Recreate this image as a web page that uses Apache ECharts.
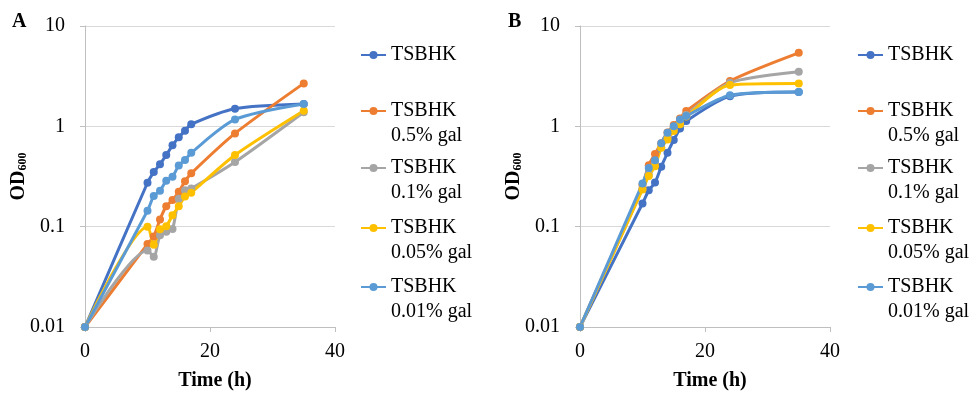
<!DOCTYPE html>
<html>
<head>
<meta charset="utf-8">
<script src="https://cdn.jsdelivr.net/npm/echarts@6/dist/echarts.min.js"></script>
<style>
  html, body { margin: 0; padding: 0; background: #fff; }
  #chart { width: 973px; height: 394px; }
</style>
</head>
<body>
<div id="chart"></div>
<script>
// ---- data ----
const times = [0, 10, 11, 12, 13, 14, 15, 16, 17, 24, 35];
const seriesNames = ['TSBHK', 'TSBHK\n0.5% gal', 'TSBHK\n0.1% gal', 'TSBHK\n0.05% gal', 'TSBHK\n0.01% gal'];
const colors = ['#4472C4', '#ED7D31', '#A5A5A5', '#FFC000', '#5B9BD5'];

// Panel A
const a_TSBHK   = [0.01, 0.274, 0.35, 0.42, 0.517, 0.646, 0.777, 0.904, 1.05, 1.5, 1.67];
const a_gal05   = [0.01, 0.067, 0.08, 0.118, 0.16, 0.184, 0.223, 0.283, 0.34, 0.85, 2.68];
const a_gal01   = [0.01, 0.058, 0.05, 0.082, 0.089, 0.095, 0.19, 0.23, 0.24, 0.44, 1.38];
const a_gal005  = [0.01, 0.1, 0.066, 0.094, 0.101, 0.13, 0.16, 0.2, 0.218, 0.517, 1.43];
const a_gal001  = [0.01, 0.144, 0.202, 0.228, 0.287, 0.315, 0.408, 0.461, 0.546, 1.17, 1.67];

// Panel B
const b_TSBHK   = [0.01, 0.17, 0.23, 0.275, 0.396, 0.545, 0.73, 0.95, 1.13, 2.0, 2.2];
const b_gal05   = [0.01, 0.26, 0.41, 0.53, 0.68, 0.87, 1.03, 1.2, 1.42, 2.83, 5.4];
const b_gal01   = [0.01, 0.24, 0.33, 0.43, 0.62, 0.78, 0.95, 1.1, 1.3, 2.72, 3.5];
const b_gal005  = [0.01, 0.235, 0.32, 0.40, 0.61, 0.74, 0.9, 1.05, 1.25, 2.58, 2.67];
const b_gal001  = [0.01, 0.27, 0.385, 0.46, 0.68, 0.865, 1.0, 1.17, 1.27, 2.04, 2.2];

const xTicks = [0, 20, 40];
const yTicks = [0.01, 0.1, 1, 10];
const panelLabels = ['A', 'B'];
const xTitle = 'Time (h)';

const panelA = [a_TSBHK, a_gal05, a_gal01, a_gal005, a_gal001];
const panelB = [b_TSBHK, b_gal05, b_gal01, b_gal005, b_gal001];

// ---- build ----
const FONT = '"Liberation Serif", "Times New Roman", serif';
const grids = [
  { left: 85, top: 26, width: 250, height: 301, outerBoundsMode: 'none', containLabel: false },
  { left: 580, top: 26, width: 250, height: 301, outerBoundsMode: 'none', containLabel: false }
];
const legendLefts = [360, 857];
const legendIconY = [55, 111, 168, 228, 287];

function mkX(i) {
  return {
    type: 'value', gridIndex: i, min: xTicks[0], max: xTicks[xTicks.length - 1], interval: 20,
    name: xTitle, nameLocation: 'middle', nameGap: 44, nameMoveOverlap: false,
    nameTextStyle: { fontFamily: FONT, fontSize: 20, fontWeight: 'bold', color: '#000', padding: [0, 0, 0, 10] },
    axisLine: { show: true, lineStyle: { color: '#BFBFBF', width: 1 } },
    axisTick: { show: true, length: 5, lineStyle: { color: '#BFBFBF' } },
    axisLabel: { fontFamily: FONT, fontSize: 20, color: '#000', margin: 15 },
    splitLine: { show: false }
  };
}
function mkY(i) {
  return {
    type: 'log', logBase: 10, gridIndex: i, min: yTicks[0], max: yTicks[yTicks.length - 1],
    name: '{a|OD}{b|600}', nameLocation: 'middle', nameGap: 56, nameRotate: 90, nameMoveOverlap: false,
    nameTextStyle: {
      rich: {
        a: { fontFamily: FONT, fontSize: 20, fontWeight: 'bold', color: '#000', verticalAlign: 'bottom' },
        b: { fontFamily: FONT, fontSize: 12, fontWeight: 'bold', color: '#000', verticalAlign: 'bottom' }
      }
    },
    axisLine: { show: true, lineStyle: { color: '#BFBFBF', width: 1 } },
    axisTick: { show: true, length: 5, lineStyle: { color: '#BFBFBF' } },
    axisLabel: {
      fontFamily: FONT, fontSize: 20, color: '#000', margin: 20,
      formatter: v => String(+v.toPrecision(3))
    },
    splitLine: { show: true, lineStyle: { color: '#D9D9D9', width: 1 } }
  };
}

const series = [];
[panelA, panelB].forEach((panel, p) => {
  panel.forEach((vals, k) => {
    series.push({
      name: seriesNames[k],
      type: 'line',
      xAxisIndex: p, yAxisIndex: p,
      data: times.map((t, j) => [t, vals[j]]),
      smooth: 0.25,
      symbol: 'circle', symbolSize: 8,
      lineStyle: { width: 3, color: colors[k] },
      itemStyle: { color: colors[k] },
      emphasis: { disabled: true },
      animation: false
    });
  });
});

const legendText = { fontFamily: FONT, fontSize: 20, color: '#000', lineHeight: 25 };
const legends = [];
legendLefts.forEach(left => {
  seriesNames.forEach((n, k) => {
    const multi = n.indexOf('\n') >= 0;
    legends.push({
      data: [{ name: n, textStyle: legendText }],
      left: left,
      top: multi ? legendIconY[k] - 37.5 : legendIconY[k] - 12.5,
      orient: 'vertical',
      padding: 0,
      itemWidth: 25, itemHeight: 10, itemGap: 0,
      formatter: nm => (nm.indexOf('\n') >= 0 ? ' \n' + nm : nm),
      textStyle: legendText,
      selectedMode: false
    });
  });
});

const option = {
  backgroundColor: '#fff',
  animation: false,
  textStyle: { fontFamily: FONT },
  title: [
    { text: panelLabels[0], left: 12, top: 12, padding: 0, textStyle: { fontFamily: FONT, fontSize: 20, fontWeight: 'bold', color: '#000' } },
    { text: panelLabels[1], left: 508, top: 12, padding: 0, textStyle: { fontFamily: FONT, fontSize: 20, fontWeight: 'bold', color: '#000' } }
  ],
  grid: grids,
  xAxis: [mkX(0), mkX(1)],
  yAxis: [mkY(0), mkY(1)],
  legend: legends,
  series: series
};

const chart = echarts.init(document.getElementById('chart'), null, { renderer: 'canvas' });
chart.setOption(option);
</script>
</body>
</html>
